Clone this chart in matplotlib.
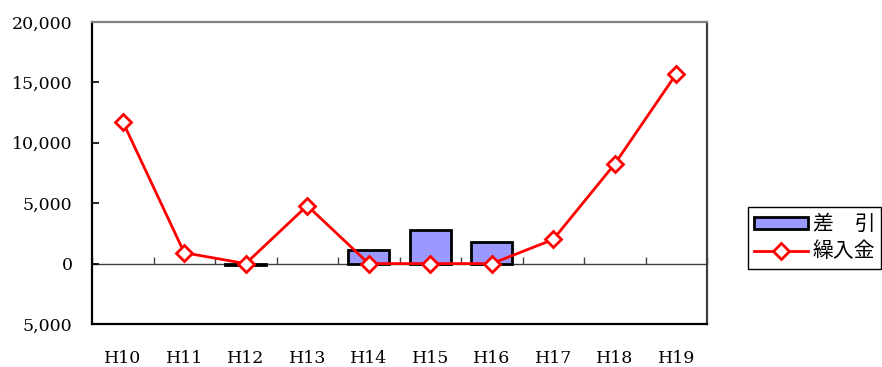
import matplotlib
matplotlib.use("Agg")
import matplotlib.pyplot as plt
from matplotlib.ticker import FuncFormatter
import numpy as np

categories = ["H10", "H11", "H12", "H13", "H14", "H15", "H16", "H17", "H18", "H19"]
sabiki = [np.nan, np.nan, -100, np.nan, 1160, 2760, 1800, np.nan, np.nan, np.nan]  # 差引
kurire = [11750, 900, 0, 4800, 0, 0, 0, 2000, 8250, 15700]                         # 繰入金
y_ticks = [-5000, 0, 5000, 10000, 15000, 20000]

fig = plt.figure(figsize=(8.82, 3.67), dpi=100)
ax = fig.add_axes([92 / 882, 43 / 367, 615 / 882, 302 / 367])

x = np.arange(len(categories))
bars = ax.bar(x, sabiki, width=0.67, color="#9999FF", edgecolor="black",
              linewidth=2, label="差\u3000引", zorder=2)
line, = ax.plot(x, kurire, color="red", linewidth=2, marker="D", markersize=8,
                markerfacecolor="white", markeredgecolor="red",
                markeredgewidth=2, label="繰入金", zorder=4)

ax.set_xlim(-0.5, len(categories) - 0.5)
ax.set_ylim(y_ticks[0], y_ticks[-1])
ax.set_yticks(y_ticks)
ax.yaxis.set_major_formatter(FuncFormatter(lambda v, p: f"{abs(int(v)):,}"))
ax.tick_params(axis="y", direction="in", length=5, width=1.2,
               labelsize=12.5, pad=14)
for lab in ax.get_yticklabels():
    lab.set_fontfamily("DejaVu Serif")

ax.set_xticks(x)
ax.set_xticklabels(categories, fontfamily="DejaVu Serif", fontsize=12.5)
ax.tick_params(axis="x", length=0, pad=19)

# zero line with category-boundary ticks
zero_pos = (0 - y_ticks[0]) / (y_ticks[-1] - y_ticks[0])
sec = ax.secondary_xaxis(zero_pos)
sec.set_xticks(np.arange(len(categories) + 1) - 0.5)
sec.tick_params(direction="in", length=5, width=1, color="#404040",
                labelbottom=False, labeltop=False)
sec.spines["bottom"].set_color("#404040")
sec.spines["bottom"].set_linewidth(1)

ax.spines["left"].set_color("black")
ax.spines["left"].set_linewidth(1.6)
ax.spines["bottom"].set_color("black")
ax.spines["bottom"].set_linewidth(1.6)
ax.spines["top"].set_color("#808080")
ax.spines["top"].set_linewidth(1.6)
ax.spines["right"].set_color("#404040")
ax.spines["right"].set_linewidth(1.6)

leg = fig.legend(handles=[bars, line], loc="upper left",
                 bbox_to_anchor=(748 / 882, (367 - 207) / 367),
                 bbox_transform=fig.transFigure, borderaxespad=0,
                 prop={"family": ["Noto Sans CJK JP", "DejaVu Sans"], "size": 15},
                 handlelength=2.6, handleheight=0.5, labelspacing=0.25,
                 borderpad=0.3, handletextpad=0.2, fancybox=False,
                 edgecolor="black", framealpha=1)
leg.get_frame().set_linewidth(1)

fig.savefig("out.png", dpi=100)
